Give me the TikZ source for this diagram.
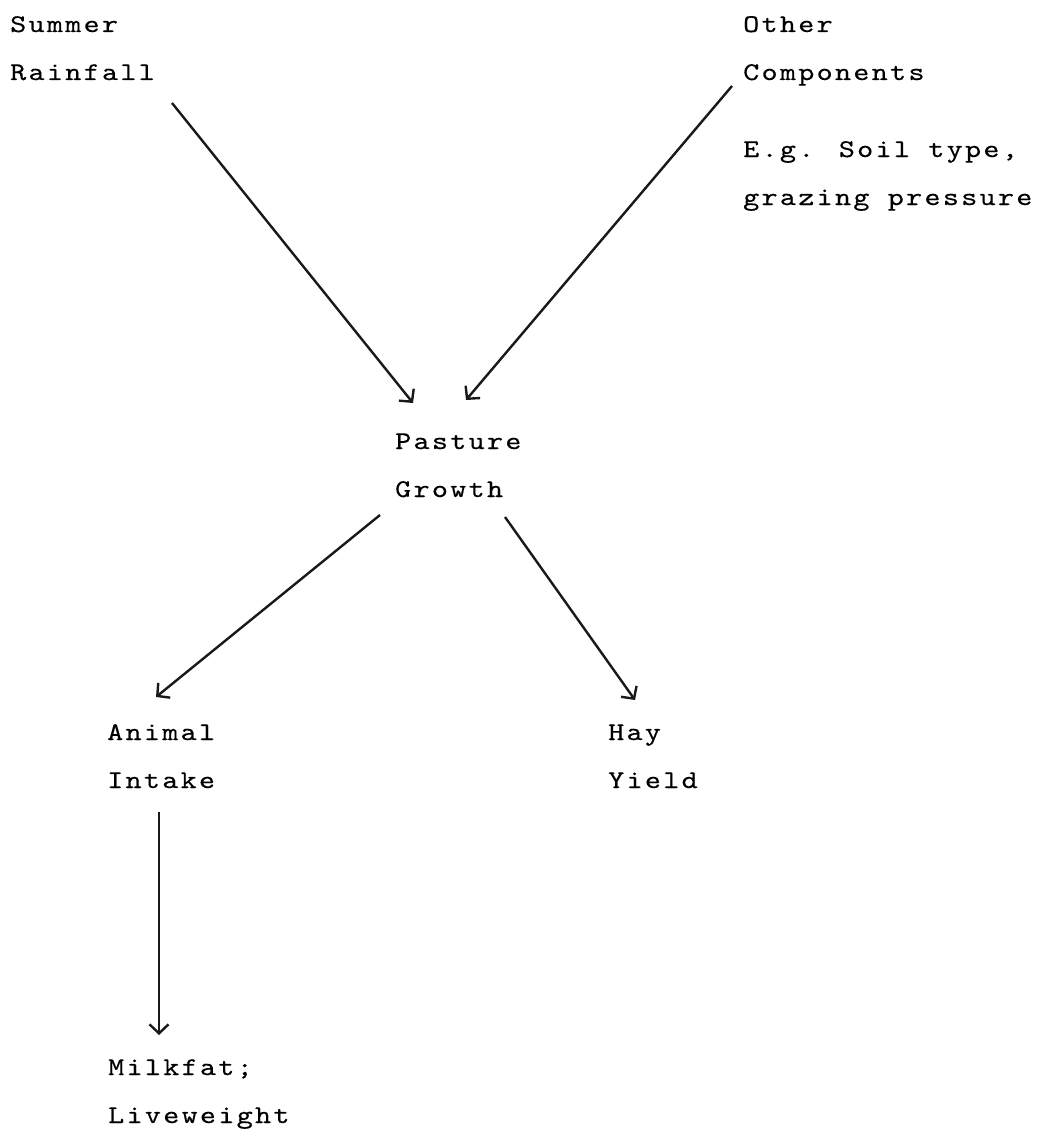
\documentclass[tikz,border=0pt]{standalone}
\usepackage{fontspec}
\usetikzlibrary{arrows.meta}
\newfontfamily\typewriter{lmmono10-regular.otf}[FakeStretch=1.2, FakeBold=0.35, LetterSpace=9]

\begin{document}
\begin{tikzpicture}[x=1pt, y=-1pt,
    words/.style={anchor=base west, inner sep=0, align=left, font=\typewriter\fontsize{25.5}{48}\selectfont},
    flow/.style={-{Straight Barb[length=9pt, width=19pt]}, line width=2.4pt, black!90}]
    \useasboundingbox (0, 0) rectangle (1052, 1132);

    % Nodes (anchored at the baseline of their last line)
    \node[words] (rain) at (10, 80) {Summer\\Rainfall};
    \node[words] (other) at (743, 80) {Other\\Components};
    \node[words] (eg) at (743, 205) {E.g. Soil type,\\grazing pressure};
    \node[words] (pasture) at (395, 497) {Pasture\\Growth};
    \node[words] (animal) at (107, 788) {Animal\\Intake};
    \node[words] (hay) at (608, 788) {Hay\\Yield};
    \node[words] (milk) at (108, 1123) {Milkfat;\\Liveweight};

    % Edges
    \draw[flow] ([shift={(162, 23)}]rain.base west) -- ([shift={(18, -94)}]pasture.base west);
    \draw[flow] ([shift={(-11, 6)}]other.base west) -- ([shift={(71, -97)}]pasture.base west);
    \draw[flow] ([shift={(-15, 18)}]pasture.base west) -- ([shift={(49, -91)}]animal.base west);
    \draw[flow] ([shift={(110, 20)}]pasture.base west) -- ([shift={(27, -88)}]hay.base west);
    \draw[flow] ([shift={(52, 24)}]animal.base west) -- ([shift={(51, -88)}]milk.base west);
\end{tikzpicture}
\end{document}
